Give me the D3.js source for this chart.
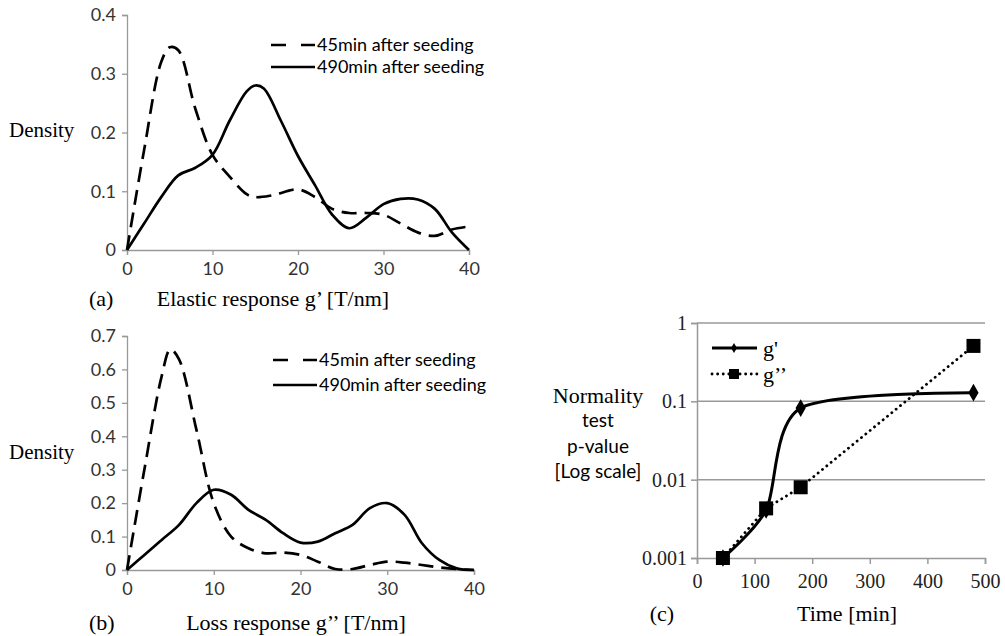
<!DOCTYPE html>
<html>
<head>
<meta charset="utf-8">
<script src="https://cdn.jsdelivr.net/npm/d3@7"></script>
<style>
  body { margin: 0; background: #fff; }
</style>
</head>
<body>
<script>
// Panel (a): elastic response densities
var gA = [0, 2, 4, 5, 6, 8, 10, 12, 14, 15, 17, 20, 22, 24, 26, 28, 30, 32, 34, 36, 38, 40];
var a45 = [0, 0.17, 0.32, 0.345, 0.34, 0.24, 0.162, 0.125, 0.095, 0.09, 0.093, 0.103, 0.09, 0.07, 0.063, 0.063, 0.06, 0.045, 0.03, 0.024, 0.035, 0.04];
var gA2 = [0, 2, 4, 6, 8, 10, 12, 14, 15, 16, 18, 20, 22, 24, 26, 28, 30, 32, 34, 36, 38, 40];
var a490 = [0, 0.045, 0.09, 0.127, 0.14, 0.162, 0.22, 0.27, 0.28, 0.275, 0.22, 0.16, 0.11, 0.06, 0.037, 0.055, 0.078, 0.087, 0.086, 0.07, 0.03, 0];

// Panel (b): loss response densities
var gB = [0, 2, 4, 5, 6, 8, 10, 12, 14, 16, 18, 20, 22, 24, 26, 28, 30, 32, 34, 36, 38, 40];
var b45 = [0, 0.3, 0.58, 0.66, 0.63, 0.42, 0.2, 0.1, 0.065, 0.05, 0.052, 0.045, 0.025, 0.003, 0.003, 0.015, 0.025, 0.022, 0.015, 0.008, 0.003, 0];
var gB2 = [0, 2, 4, 6, 8, 10, 12, 14, 16, 18, 20, 22, 24, 26, 28, 30, 32, 34, 36, 38, 40];
var b490 = [0, 0.045, 0.09, 0.135, 0.2, 0.24, 0.225, 0.18, 0.15, 0.11, 0.082, 0.085, 0.11, 0.135, 0.185, 0.2, 0.165, 0.08, 0.03, 0.005, 0];

// Panel (c): normality test p-values
var times = [45, 120, 180, 480];
var pElastic = [0.001, 0.0041, 0.082, 0.129];
var pLoss = [0.001, 0.0043, 0.008, 0.51];

var legendLabels = ["45min after seeding", "490min after seeding"];

var svg = d3.select("body").append("svg")
    .attr("width", 1005)
    .attr("height", 636);

var serif = "'Liberation Serif', 'Times New Roman', serif";
var sans = "Lato, 'Open Sans', sans-serif";

function zip(xs, ys) {
  return xs.map(function(d, i) { return [d, ys[i]]; });
}

// Density panel with two KDE curves
function densityPanel(opts) {
  var x = d3.scaleLinear().domain([0, 40]).range([opts.left, opts.right]);
  var y = d3.scaleLinear().domain([0, opts.ymax]).range([opts.bottom, opts.top]);

  var xAxis = svg.append("g")
      .attr("transform", "translate(0," + opts.bottom + ")")
      .call(d3.axisBottom(x).tickValues([0, 10, 20, 30, 40]).tickSize(5).tickPadding(7));
  var yAxis = svg.append("g")
      .attr("transform", "translate(" + opts.left + ",0)")
      .call(d3.axisLeft(y).tickValues(opts.yticks).tickSize(5).tickPadding(6)
        .tickFormat(function(d) { return d === 0 ? "0" : d3.format(".1f")(d); }));
  [xAxis, yAxis].forEach(function(ax) {
    ax.selectAll("path, line").attr("stroke", "#999").attr("stroke-width", 1.3);
    ax.selectAll("text").style("font-family", sans).style("font-size", "18px").attr("fill", "#333");
  });

  var line = d3.line()
      .x(function(d) { return x(d[0]); })
      .y(function(d) { return y(d[1]); })
      .curve(d3.curveCatmullRom.alpha(0.5));

  svg.append("path")
      .datum(zip(opts.gx1, opts.s45))
      .attr("d", line)
      .attr("fill", "none")
      .attr("stroke", "#000")
      .attr("stroke-width", 2.7)
      .attr("stroke-dasharray", "15,8");
  svg.append("path")
      .datum(zip(opts.gx2, opts.s490))
      .attr("d", line)
      .attr("fill", "none")
      .attr("stroke", "#000")
      .attr("stroke-width", 2.7);

  // legend
  var lg = svg.append("g").attr("transform", "translate(" + opts.legX + "," + opts.legY + ")");
  lg.append("line").attr("x1", 0).attr("x2", 44).attr("y1", 0).attr("y2", 0)
      .attr("stroke", "#000").attr("stroke-width", 2.7).attr("stroke-dasharray", "15,15,15");
  lg.append("line").attr("x1", 0).attr("x2", 44).attr("y1", opts.legGap).attr("y2", opts.legGap)
      .attr("stroke", "#000").attr("stroke-width", 2.7);
  lg.selectAll("text").data(legendLabels).enter().append("text")
      .attr("x", 46)
      .attr("y", function(d, i) { return i * opts.legGap; })
      .attr("dy", "0.35em")
      .style("font-family", sans)
      .style("font-size", "18px")
      .text(function(d) { return d; });

  svg.append("text")
      .attr("x", 9).attr("y", opts.densY).attr("dy", "0.35em")
      .style("font-family", serif).style("font-size", "21px")
      .text("Density");
  svg.append("text")
      .attr("x", opts.tagX).attr("y", opts.titleY).attr("dy", "0.35em")
      .style("font-family", serif).style("font-size", "22px")
      .text(opts.tag);
  svg.append("text")
      .attr("x", opts.titleX).attr("y", opts.titleY).attr("dy", "0.35em")
      .style("font-family", serif).style("font-size", "22px")
      .style("text-anchor", "middle")
      .text(opts.title);
}

densityPanel({
  left: 127, right: 469, top: 15, bottom: 250, ymax: 0.4,
  yticks: [0, 0.1, 0.2, 0.3, 0.4],
  gx1: gA, s45: a45, gx2: gA2, s490: a490,
  legX: 271, legY: 45, legGap: 22,
  densY: 130, tagX: 89, titleY: 298, titleX: 273,
  tag: "(a)", title: "Elastic response g\u2019 [T/nm]"
});

densityPanel({
  left: 127, right: 474, top: 336, bottom: 570, ymax: 0.7,
  yticks: [0, 0.1, 0.2, 0.3, 0.4, 0.5, 0.6, 0.7],
  gx1: gB, s45: b45, gx2: gB2, s490: b490,
  legX: 273, legY: 360, legGap: 25,
  densY: 452, tagX: 89, titleY: 622, titleX: 296,
  tag: "(b)", title: "Loss response g\u2019\u2019 [T/nm]"
});

// Panel (c)
var xc = d3.scaleLinear().domain([0, 500]).range([697, 985]);
var yc = d3.scaleLog().domain([0.001, 1]).range([558, 323]);

svg.append("g").selectAll("line")
    .data([0.01, 0.1, 1])
    .enter().append("line")
    .attr("x1", xc(0)).attr("x2", xc(500))
    .attr("y1", function(d) { return yc(d); })
    .attr("y2", function(d) { return yc(d); })
    .attr("stroke", "#999").attr("stroke-width", 1.5);

var xAxisC = svg.append("g")
    .attr("transform", "translate(0," + yc(0.001) + ")")
    .call(d3.axisBottom(xc).tickValues([0, 100, 200, 300, 400, 500]).tickSize(6).tickPadding(10));
var yAxisC = svg.append("g")
    .attr("transform", "translate(" + xc(0) + ",0)")
    .call(d3.axisLeft(yc).tickValues([0.001, 0.01, 0.1, 1]).tickSize(6).tickPadding(4)
      .tickFormat(function(d) { return d === 1 ? "1" : String(d); }));
[xAxisC, yAxisC].forEach(function(ax) {
  ax.selectAll("path, line").attr("stroke", "#999").attr("stroke-width", 1.5);
  ax.selectAll("text").style("font-family", serif).style("font-size", "20px").attr("fill", "#222");
});

var lineC = d3.line()
    .x(function(d) { return xc(d[0]); })
    .y(function(d) { return yc(d[1]); });

svg.append("path")
    .datum(zip(times, pLoss))
    .attr("d", lineC)
    .attr("fill", "none").attr("stroke", "#000")
    .attr("stroke-width", 2.8)
    .attr("stroke-linecap", "round")
    .attr("stroke-dasharray", "0.1,5.5");

svg.append("path")
    .datum(zip(times, pElastic))
    .attr("d", lineC.curve(d3.curveCardinal.tension(0.2)))
    .attr("fill", "none").attr("stroke", "#000")
    .attr("stroke-width", 3);

svg.append("g").selectAll("path")
    .data(zip(times, pElastic))
    .enter().append("path")
    .attr("transform", function(d) { return "translate(" + xc(d[0]) + "," + yc(d[1]) + ")"; })
    .attr("d", d3.symbol().type(d3.symbolDiamond).size(90))
    .attr("fill", "#000");

svg.append("g").selectAll("rect")
    .data(zip(times, pLoss))
    .enter().append("rect")
    .attr("x", function(d) { return xc(d[0]) - 7; })
    .attr("y", function(d) { return yc(d[1]) - 7; })
    .attr("width", 14).attr("height", 14)
    .attr("fill", "#000");

// legend (c)
var lc = svg.append("g").attr("transform", "translate(712,348)");
lc.append("line").attr("x1", 0).attr("x2", 45).attr("y1", 0).attr("y2", 0)
    .attr("stroke", "#000").attr("stroke-width", 3);
lc.append("path").attr("transform", "translate(22,0)")
    .attr("d", d3.symbol().type(d3.symbolDiamond).size(30)).attr("fill", "#000");
lc.append("line").attr("x1", 0).attr("x2", 45).attr("y1", 26).attr("y2", 26)
    .attr("stroke", "#000").attr("stroke-width", 2.8)
    .attr("stroke-linecap", "round").attr("stroke-dasharray", "0.1,5.5");
lc.append("rect").attr("x", 17).attr("y", 21).attr("width", 10).attr("height", 10).attr("fill", "#000");
lc.selectAll("text").data(["g'", "g\u2019\u2019"]).enter().append("text")
    .attr("x", 51).attr("y", function(d, i) { return i * 26; }).attr("dy", "0.35em")
    .style("font-family", serif).style("font-size", "22px")
    .text(function(d) { return d; });

// y title (c)
svg.append("g").selectAll("text")
    .data(["Normality", "test", "p-value", "[Log scale]"])
    .enter().append("text")
    .attr("x", 598)
    .attr("y", function(d, i) { return 395 + i * 25.5; })
    .attr("dy", "0.35em")
    .style("text-anchor", "middle")
    .style("font-family", function(d, i) { return i === 0 ? serif : sans; })
    .style("font-size", function(d, i) { return i === 0 ? "22px" : "19px"; })
    .text(function(d) { return d; });

svg.append("text")
    .attr("x", 847).attr("y", 613).attr("dy", "0.35em")
    .style("text-anchor", "middle")
    .style("font-family", serif).style("font-size", "22px")
    .text("Time [min]");
svg.append("text")
    .attr("x", 662).attr("y", 613).attr("dy", "0.35em")
    .style("text-anchor", "middle")
    .style("font-family", serif).style("font-size", "22px")
    .text("(c)");
</script>
</body>
</html>
